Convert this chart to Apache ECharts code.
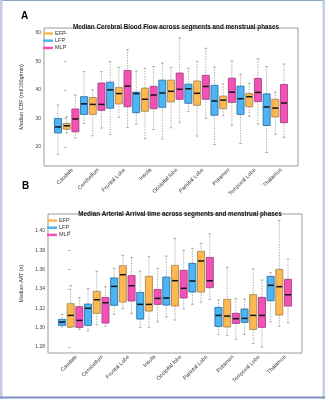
<!DOCTYPE html>
<html><head><meta charset="utf-8">
<script src="https://cdn.jsdelivr.net/npm/echarts@6/dist/echarts.min.js"></script>
<style>html,body{margin:0;padding:0;background:#fff}#c{width:325px;height:400px}</style>
</head><body><div id="c"></div>
<script>
const categories = ['Caudate','Cerebellum','Frontal Lobe','Insula','Occipital lobe','Parietal Lobe','Putamen','Temporal Lobe','Thalamus'];
const drawOrder = ['LFP','EFP','MLP'];
const legendOrder = ['EFP','LFP','MLP'];
const cbfTicks = [20,30,40,50,60];
const aatTicks = [1.28,1.30,1.32,1.34,1.36,1.38,1.40];
const titleA = 'Median Cerebral Blood Flow across segments and menstrual phases';
const titleB = 'Median Arterial Arrival time across segments and menstrual phases';
const nameA = 'Median CBF (ml/100g/min)';
const nameB = 'Median AAT (s)';

// each box: [min, Q1, median, Q3, max]
const cbfLFP = [
[17.3,24.9,27.0,30.0,34.7],[28.2,31.4,35.1,37.6,46.4],[24.4,33.6,40.0,42.7,49.9],
[28.0,32.0,38.7,39.2,46.6],[22.8,33.9,38.9,43.4,49.4],[32.4,35.3,40.4,42.0,47.6],
[20.8,31.1,36.1,41.6,48.0],[21.2,31.4,36.9,41.3,45.5],[18.0,27.5,34.0,38.6,48.2]];
const cbfEFP = [
[24.9,26.2,27.4,28.2,30.6],[23.9,31.4,34.9,37.3,40.0],[30.4,35.1,38.7,40.8,47.9],
[22.9,32.5,36.7,40.6,47.6],[26.7,35.8,39.5,43.4,47.9],[23.8,34.6,38.8,43.1,50.0],
[30.9,33.4,36.4,37.8,42.1],[30.7,34.1,37.6,38.7,42.2],[24.5,30.5,33.6,36.7,39.2]];
const cbfMLP = [
[23.2,25.3,29.8,33.3,38.2],[26.6,32.8,34.9,42.4,46.4],[26.8,34.1,41.3,46.8,54.1],
[26.1,33.4,38.2,41.2,48.2],[28.5,36.7,40.2,45.9,58.2],[30.0,36.7,41.2,45.1,54.6],
[27.6,35.6,39.2,44.1,50.1],[28.0,35.9,39.1,44.0,50.9],[23.3,28.5,35.4,41.9,49.1]];

const aatLFP = [
[1.3007,1.3024,1.3058,1.3086,1.3138],[1.2965,1.3024,1.3200,1.3244,1.3403],[1.3138,1.3231,1.3427,1.3514,1.3614],
[1.3003,1.3089,1.3241,1.3365,1.3583],[1.3113,1.3234,1.3307,1.3524,1.3741],[1.3241,1.3369,1.3483,1.3665,1.3821],
[1.2930,1.3013,1.3127,1.3210,1.3286],[1.2930,1.3055,1.3096,1.3193,1.3296],[1.3062,1.3279,1.3438,1.3531,1.3569]];
const aatEFP = [
[1.3005,1.3007,1.3127,1.3248,1.3434],[1.3031,1.3148,1.3289,1.3376,1.3583],[1.3196,1.3265,1.3548,1.3641,1.3748],
[1.3003,1.3172,1.3241,1.3531,1.3734],[1.3079,1.3224,1.3486,1.3645,1.3924],[1.3262,1.3369,1.3690,1.3790,1.3872],
[1.2920,1.3007,1.3120,1.3293,1.3624],[1.2837,1.2982,1.3127,1.3341,1.3607],[1.3017,1.3131,1.3424,1.3603,1.4107]];
const aatMLP = [
[1.2982,1.3003,1.3075,1.3217,1.3310],[1.3017,1.3048,1.3258,1.3313,1.3424],[1.3148,1.3276,1.3434,1.3538,1.3727],
[1.3058,1.3241,1.3303,1.3396,1.3614],[1.3193,1.3307,1.3407,1.3593,1.3800],[1.3293,1.3414,1.3486,1.3727,1.3969],
[1.2879,1.3044,1.3093,1.3148,1.3300],[1.2800,1.3003,1.3127,1.3313,1.3493],[1.3051,1.3224,1.3341,1.3500,1.3707]];

const FONT = 'Liberation Sans, Arial, Helvetica, sans-serif';
const fills = {EFP:'#FDB84F', LFP:'#4DB5F3', MLP:'#F451B6'};
const edges = {EFP:'#A88A5A', LFP:'#2F72A6', MLP:'#A54483'};
const offsets = {LFP:-1/3, EFP:0, MLP:1/3};
const BOX_W = 0.27, CAP_W = 0.1;
const LABEL_SHIFT = 0.22;

function makeRender(phase){
  return function(params, api){
    const x = api.value(0);
    const c = v => api.coord([x, v]);
    const xc = c(api.value(3))[0];
    const yMin = c(api.value(1))[1], yQ1 = c(api.value(2))[1], yMed = c(api.value(3))[1],
          yQ3 = c(api.value(4))[1], yMax = c(api.value(5))[1];
    const w = api.size([BOX_W, 0])[0], cw = api.size([CAP_W, 0])[0];
    const ws = {stroke:'#9a9a9a', lineWidth:0.8, lineDash:[1.4,1.2]};
    const cs = {stroke:'#9a9a9a', lineWidth:0.8};
    return {type:'group', children:[
      {type:'line', shape:{x1:xc,y1:yMax,x2:xc,y2:yQ3}, style:ws},
      {type:'line', shape:{x1:xc,y1:yQ1,x2:xc,y2:yMin}, style:ws},
      {type:'line', shape:{x1:xc-cw/2,y1:yMax,x2:xc+cw/2,y2:yMax}, style:cs},
      {type:'line', shape:{x1:xc-cw/2,y1:yMin,x2:xc+cw/2,y2:yMin}, style:cs},
      {type:'rect', shape:{x:xc-w/2, y:yQ3, width:w, height:yQ1-yQ3}, style:{fill:fills[phase], stroke:edges[phase], lineWidth:0.9}},
      {type:'line', shape:{x1:xc-w/2+0.5,y1:yMed,x2:xc+w/2-0.5,y2:yMed}, style:{stroke:'#111', lineWidth:1.5}}
    ]};
  };
}

function buildSeries(dataMap, gridIdx){
  return drawOrder.map(ph => ({
    type:'custom', name:ph, xAxisIndex:gridIdx, yAxisIndex:gridIdx,
    itemStyle:{color:fills[ph]},
    renderItem: makeRender(ph),
    encode:{x:0, y:[1,2,3,4,5]},
    data: dataMap[ph].map((b,i) => [i + offsets[ph]].concat(b)),
    silent:true
  }));
}

const xAxisBase = (gi) => ({
  type:'value', gridIndex:gi, min:-0.87, max:8.87,
  axisLine:{show:false}, axisTick:{show:false}, splitLine:{show:false},
  axisLabel:{customValues:categories.map((_,i)=>i + LABEL_SHIFT), formatter:v=>categories[Math.round(v)],
    rotate:45, fontSize:5.5, color:'#333', margin:3, fontFamily:FONT}
});
const yAxisBase = (gi, min, max, ticks, name, fmt) => ({
  type:'value', gridIndex:gi, min:min, max:max,
  axisLine:{show:false}, splitLine:{show:false},
  axisTick:{show:true, length:3, customValues:ticks, lineStyle:{color:'#a0a0a0', width:0.7}},
  axisLabel:{customValues:ticks, formatter:fmt, fontSize:5, color:'#444', margin:3, fontFamily:FONT},
  name:name, nameLocation:'middle', nameGap:17,
  nameTextStyle:{fontSize:5.5, color:'#333', fontFamily:FONT}
});
const legendBase = (left, top) => ({
  left:left, top:top, orient:'vertical', data:legendOrder, icon:'rect',
  itemWidth:10, itemHeight:2.5, itemGap:1.2, padding:0, selectedMode:false,
  textStyle:{fontSize:5.5, color:'#333', fontFamily:FONT, padding:[0,0,0,-3]}
});

const chart = echarts.init(document.getElementById('c'), null, {renderer:'canvas'});
chart.setOption({
  animation:false,
  backgroundColor:'#fff',
  title:[
    {text:'A', left:16, top:6, textStyle:{fontSize:10, fontWeight:'bold', color:'#000', fontFamily:FONT}},
    {text:titleA, left:171, top:19.5, textAlign:'center', textStyle:{fontSize:6.3, fontWeight:'bold', color:'#111', fontFamily:FONT}},
    {text:'B', left:17, top:176, textStyle:{fontSize:10, fontWeight:'bold', color:'#000', fontFamily:FONT}},
    {text:titleB, left:175, top:206, textAlign:'center', textStyle:{fontSize:6.3, fontWeight:'bold', color:'#111', fontFamily:FONT}}
  ],
  legend:[legendBase(43, 30.5), legendBase(47, 217.5)],
  grid:[
    {left:44, top:28, width:254, height:138, show:true, borderColor:'#9a9a9a', borderWidth:1, backgroundColor:'transparent'},
    {left:48, top:214, width:254, height:139, show:true, borderColor:'#9a9a9a', borderWidth:1, backgroundColor:'transparent'}
  ],
  xAxis:[xAxisBase(0), xAxisBase(1)],
  yAxis:[
    yAxisBase(0, 13.3, 61.7, cbfTicks, nameA, v=>String(Math.round(v))),
    yAxisBase(1, 1.2738, 1.4176, aatTicks, nameB, v=>v.toFixed(2))
  ],
  series: buildSeries({LFP:cbfLFP, EFP:cbfEFP, MLP:cbfMLP}, 0)
    .concat(buildSeries({LFP:aatLFP, EFP:aatEFP, MLP:aatMLP}, 1)),
  graphic:[
    {type:'rect', shape:{x:0,y:0,width:325,height:1}, style:{fill:'#8fa2cc'}, silent:true},
    {type:'rect', shape:{x:0,y:0,width:2.5,height:399}, style:{fill:'#c3cde4'}, silent:true},
    {type:'rect', shape:{x:322.5,y:0,width:2.5,height:399}, style:{fill:'#c3cde4'}, silent:true},
    {type:'rect', shape:{x:0,y:396.5,width:325,height:2}, style:{fill:'#7f94c2'}, silent:true}
  ]
});
</script></body></html>
